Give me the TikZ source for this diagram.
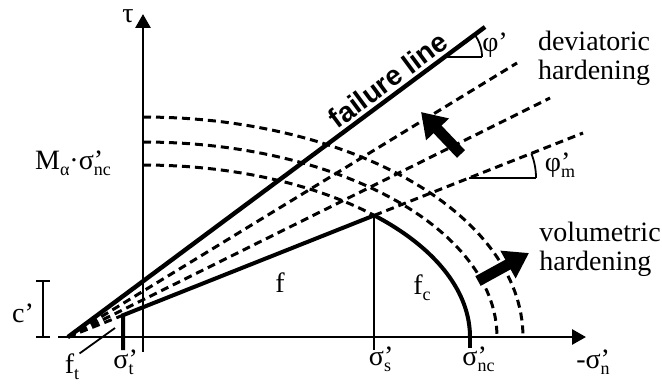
\documentclass[tikz,border=0pt]{standalone}
\usepackage{fontspec}
\setmainfont{Liberation Serif}
\newfontfamily\negritoSans[BoldFont={Liberation Sans Bold}]{Liberation Sans}
\usetikzlibrary{arrows.meta}
\tikzset{
  eixo/.style={line width=1.4pt,-{Triangle[length=7pt,width=7.5pt]}},
  grossa/.style={line width=2pt},
  fina/.style={line width=0.9pt},
  tracejado/.style={line width=1.5pt,dash pattern=on 4pt off 2.5pt},
  setaGrossa/.style={line width=5.5pt,-{Triangle[length=12pt,width=15pt]}},
  rotulo/.style={font=\fontsize{14}{14.5}\selectfont,inner sep=0pt},
}
\newcommand{\ind}[1]{\raisebox{-0.5ex}{\fontsize{9}{9}\selectfont #1}}
\newcommand{\lin}[2]{#1\rlap{’}\ind{#2}}

\begin{document}
\begin{tikzpicture}[x=0.5pt,y=-0.5pt]
\useasboundingbox (0,0) rectangle (662,385);
% pontos principais
\coordinate (O) at (68,337);
\coordinate (F) at (485,27);
\coordinate (D1) at (517,63);
\coordinate (D2) at (550,98);
\coordinate (D3) at (583,133);
\coordinate (T) at (123,315.2);
\coordinate (P) at (374.2,215.4);
% eixos
\draw[eixo] (58,337) -- (586,337);
\draw[eixo] (143,352) -- (143,14);
\node[rotulo] (tau) at (128,16) {τ};
\node[rotulo] (sign) at (593,362) {-\lin{σ}{n}};
% coesao
\draw[fina] (43,281) -- (43,337);
\draw[fina] (36,281) -- (50,281);
\draw[fina] (36,337) -- (50,337);
\node[rotulo] (coes) at (23,313) {c’};
% linha de ruptura
\draw[grossa,line width=2.2pt] (O) -- (F);
\node[rotulo,rotate=36.6,font=\fontsize{14}{14.5}\negritoSans\bfseries] (ruptura) at (388,80) {failure line};
\draw[fina] (444.6,57) -- (482,57);
\draw[fina] plot[domain=0:36.6,samples=20,variable=\t] ({444.6+37.4*cos(\t)},{57-37.4*sin(\t)});
\node[rotulo] (phi) at (495,45) {φ’};
% retas tracejadas (endurecimento desviador)
\draw[tracejado] (O) -- (D1);
\draw[tracejado] (O) -- (D2);
\draw[tracejado] (O) -- (T);
\draw[tracejado] (P) -- (D3);
\draw[fina] (469.4,178) -- (536,178);
\draw[fina] plot[domain=0:21.6,samples=20,variable=\t] ({469.4+66.6*cos(\t)},{178-66.6*sin(\t)});
\node[rotulo] (phim) at (560,165) {\lin{φ}{m}};
% capas
\draw[tracejado] plot[domain=90:45,samples=40,variable=\t] ({143+327*cos(\t)},{337-172*sin(\t)});
\draw[tracejado] plot[domain=90:0,samples=60,variable=\t] ({143+354*cos(\t)},{337-195*sin(\t)});
\draw[tracejado] plot[domain=90:0,samples=60,variable=\t] ({143+380*cos(\t)},{337-220*sin(\t)});
\draw[grossa] plot[domain=45:0,samples=40,variable=\t] ({143+327*cos(\t)},{337-172*sin(\t)});
% superficie f
\draw[grossa] (123,350) -- (T) -- (P);
\draw[fina] (P) -- (374.2,350);
\draw[grossa] (470,337) -- (470,348);
\node[rotulo] (f) at (280,283) {f};
\node[rotulo] (fc) at (422,288) {f\ind{c}};
\node[rotulo] (ft) at (72,367) {f\ind{t}};
\coordinate (ftp) at (115,328);
\draw[fina] (ft.north east) -- (ftp);
% rotulos do eixo
\node[rotulo] (sigt) at (123.5,362) {\lin{σ}{t}};
\node[rotulo] (sigs) at (380,359) {\lin{σ}{s}};
\node[rotulo] (signc) at (478.5,359) {\lin{σ}{nc}};
\node[rotulo] (Mnc) at (73,163) {M\ind{α}·\lin{σ}{nc}};
% setas de endurecimento
\coordinate (a0) at (461,154);
\coordinate (a1) at (421,112);
\coordinate (b0) at (478,281);
\coordinate (b1) at (529,253);
\draw[setaGrossa] (a0) -- (a1);
\draw[setaGrossa] (b0) -- (b1);
\node[rotulo,align=center] (dev) at (594,58) {deviatoric\\hardening};
\node[rotulo,align=left] (vol) at (600,249) {volumetric\\hardening};
\end{tikzpicture}
\end{document}
